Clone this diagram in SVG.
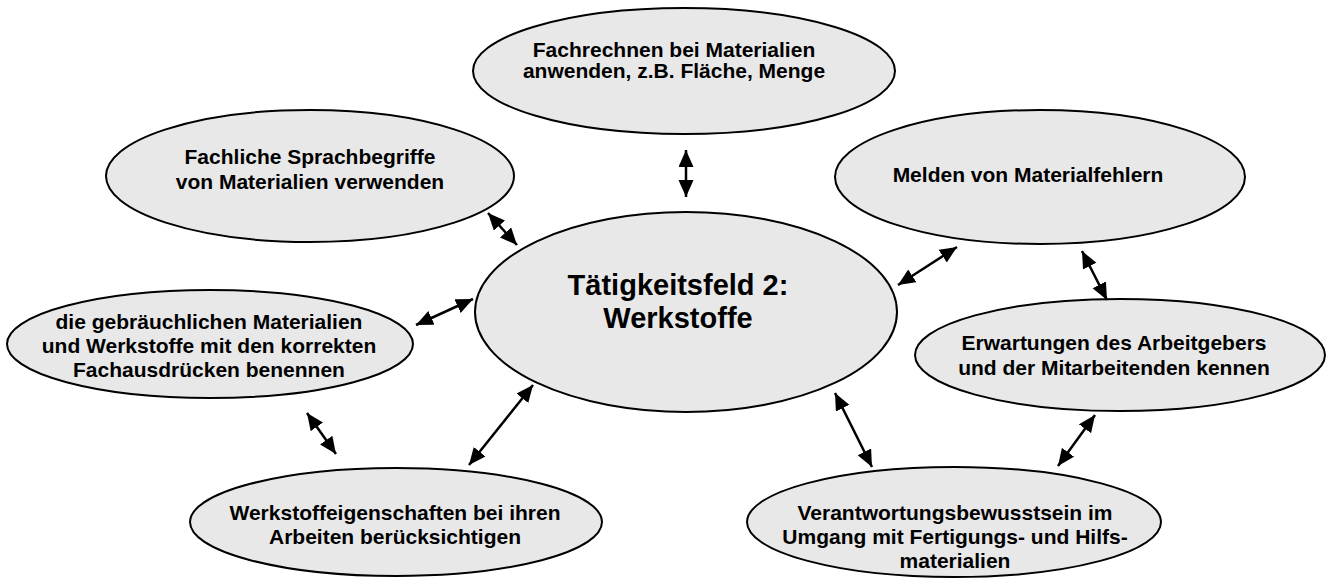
<svg xmlns="http://www.w3.org/2000/svg" width="1330" height="578" viewBox="0 0 1330 578">
<style>
.node ellipse{fill:#e8e8e8;stroke:#000;stroke-width:2}
.node text{font-family:"Liberation Sans",Arial,sans-serif;font-weight:bold;font-size:21px;fill:#000;text-anchor:middle}
.node text.big{font-size:29px}
.conn line{stroke:#000;stroke-width:2.5;marker-start:url(#ah);marker-end:url(#ah)}
</style>
<defs>
<marker id="ah" markerUnits="userSpaceOnUse" markerWidth="18" markerHeight="16" refX="17" refY="7.5" orient="auto-start-reverse" viewBox="0 0 18 16">
<path d="M0,0 L17,7.5 L0,15 z" fill="#000"/>
</marker>
</defs>
<rect width="1330" height="578" fill="#fff"/>
<g id="n-top" class="node">
<ellipse cx="684" cy="71" rx="211" ry="63"/>
<text x="674" y="57">Fachrechnen bei Materialien</text>
<text x="674" y="78">anwenden, z.B. Fläche, Menge</text>
</g>
<g id="n-topleft" class="node">
<ellipse cx="310" cy="176" rx="204" ry="66"/>
<text x="310" y="164">Fachliche Sprachbegriffe</text>
<text x="310" y="189">von Materialien verwenden</text>
</g>
<g id="n-topright" class="node">
<ellipse cx="1040" cy="177" rx="205" ry="67"/>
<text x="1028" y="182">Melden von Materialfehlern</text>
</g>
<g id="n-center" class="node">
<ellipse cx="686" cy="312" rx="211" ry="100"/>
<text class="big" x="678" y="295">Tätigkeitsfeld 2:</text>
<text class="big" x="678" y="328">Werkstoffe</text>
</g>
<g id="n-left" class="node">
<ellipse cx="210" cy="344" rx="203" ry="54"/>
<text x="209" y="329">die gebräuchlichen Materialien</text>
<text x="209" y="353">und Werkstoffe mit den korrekten</text>
<text x="209" y="377">Fachausdrücken benennen</text>
</g>
<g id="n-right" class="node">
<ellipse cx="1120" cy="355" rx="205" ry="56"/>
<text x="1114" y="350">Erwartungen des Arbeitgebers</text>
<text x="1114" y="375">und der Mitarbeitenden kennen</text>
</g>
<g id="n-bottomleft" class="node">
<ellipse cx="396" cy="522" rx="206" ry="54"/>
<text x="395" y="520">Werkstoffeigenschaften bei ihren</text>
<text x="395" y="544">Arbeiten berücksichtigen</text>
</g>
<g id="n-bottomright" class="node">
<ellipse cx="954" cy="522" rx="207" ry="55"/>
<text x="955" y="520">Verantwortungsbewusstsein im</text>
<text x="955" y="544">Umgang mit Fertigungs- und Hilfs-</text>
<text x="955" y="568">materialien</text>
</g>
<g id="connectors" class="conn">
<line x1="686" y1="150" x2="686" y2="197"/>
<line x1="488" y1="213" x2="517" y2="245"/>
<line x1="416" y1="325" x2="473" y2="299"/>
<line x1="898" y1="285" x2="957" y2="247"/>
<line x1="1082" y1="251" x2="1107" y2="300"/>
<line x1="307" y1="413" x2="336" y2="454"/>
<line x1="533" y1="385" x2="469" y2="465"/>
<line x1="835" y1="393" x2="872" y2="467"/>
<line x1="1095" y1="415" x2="1058" y2="466"/>
</g>
</svg>
